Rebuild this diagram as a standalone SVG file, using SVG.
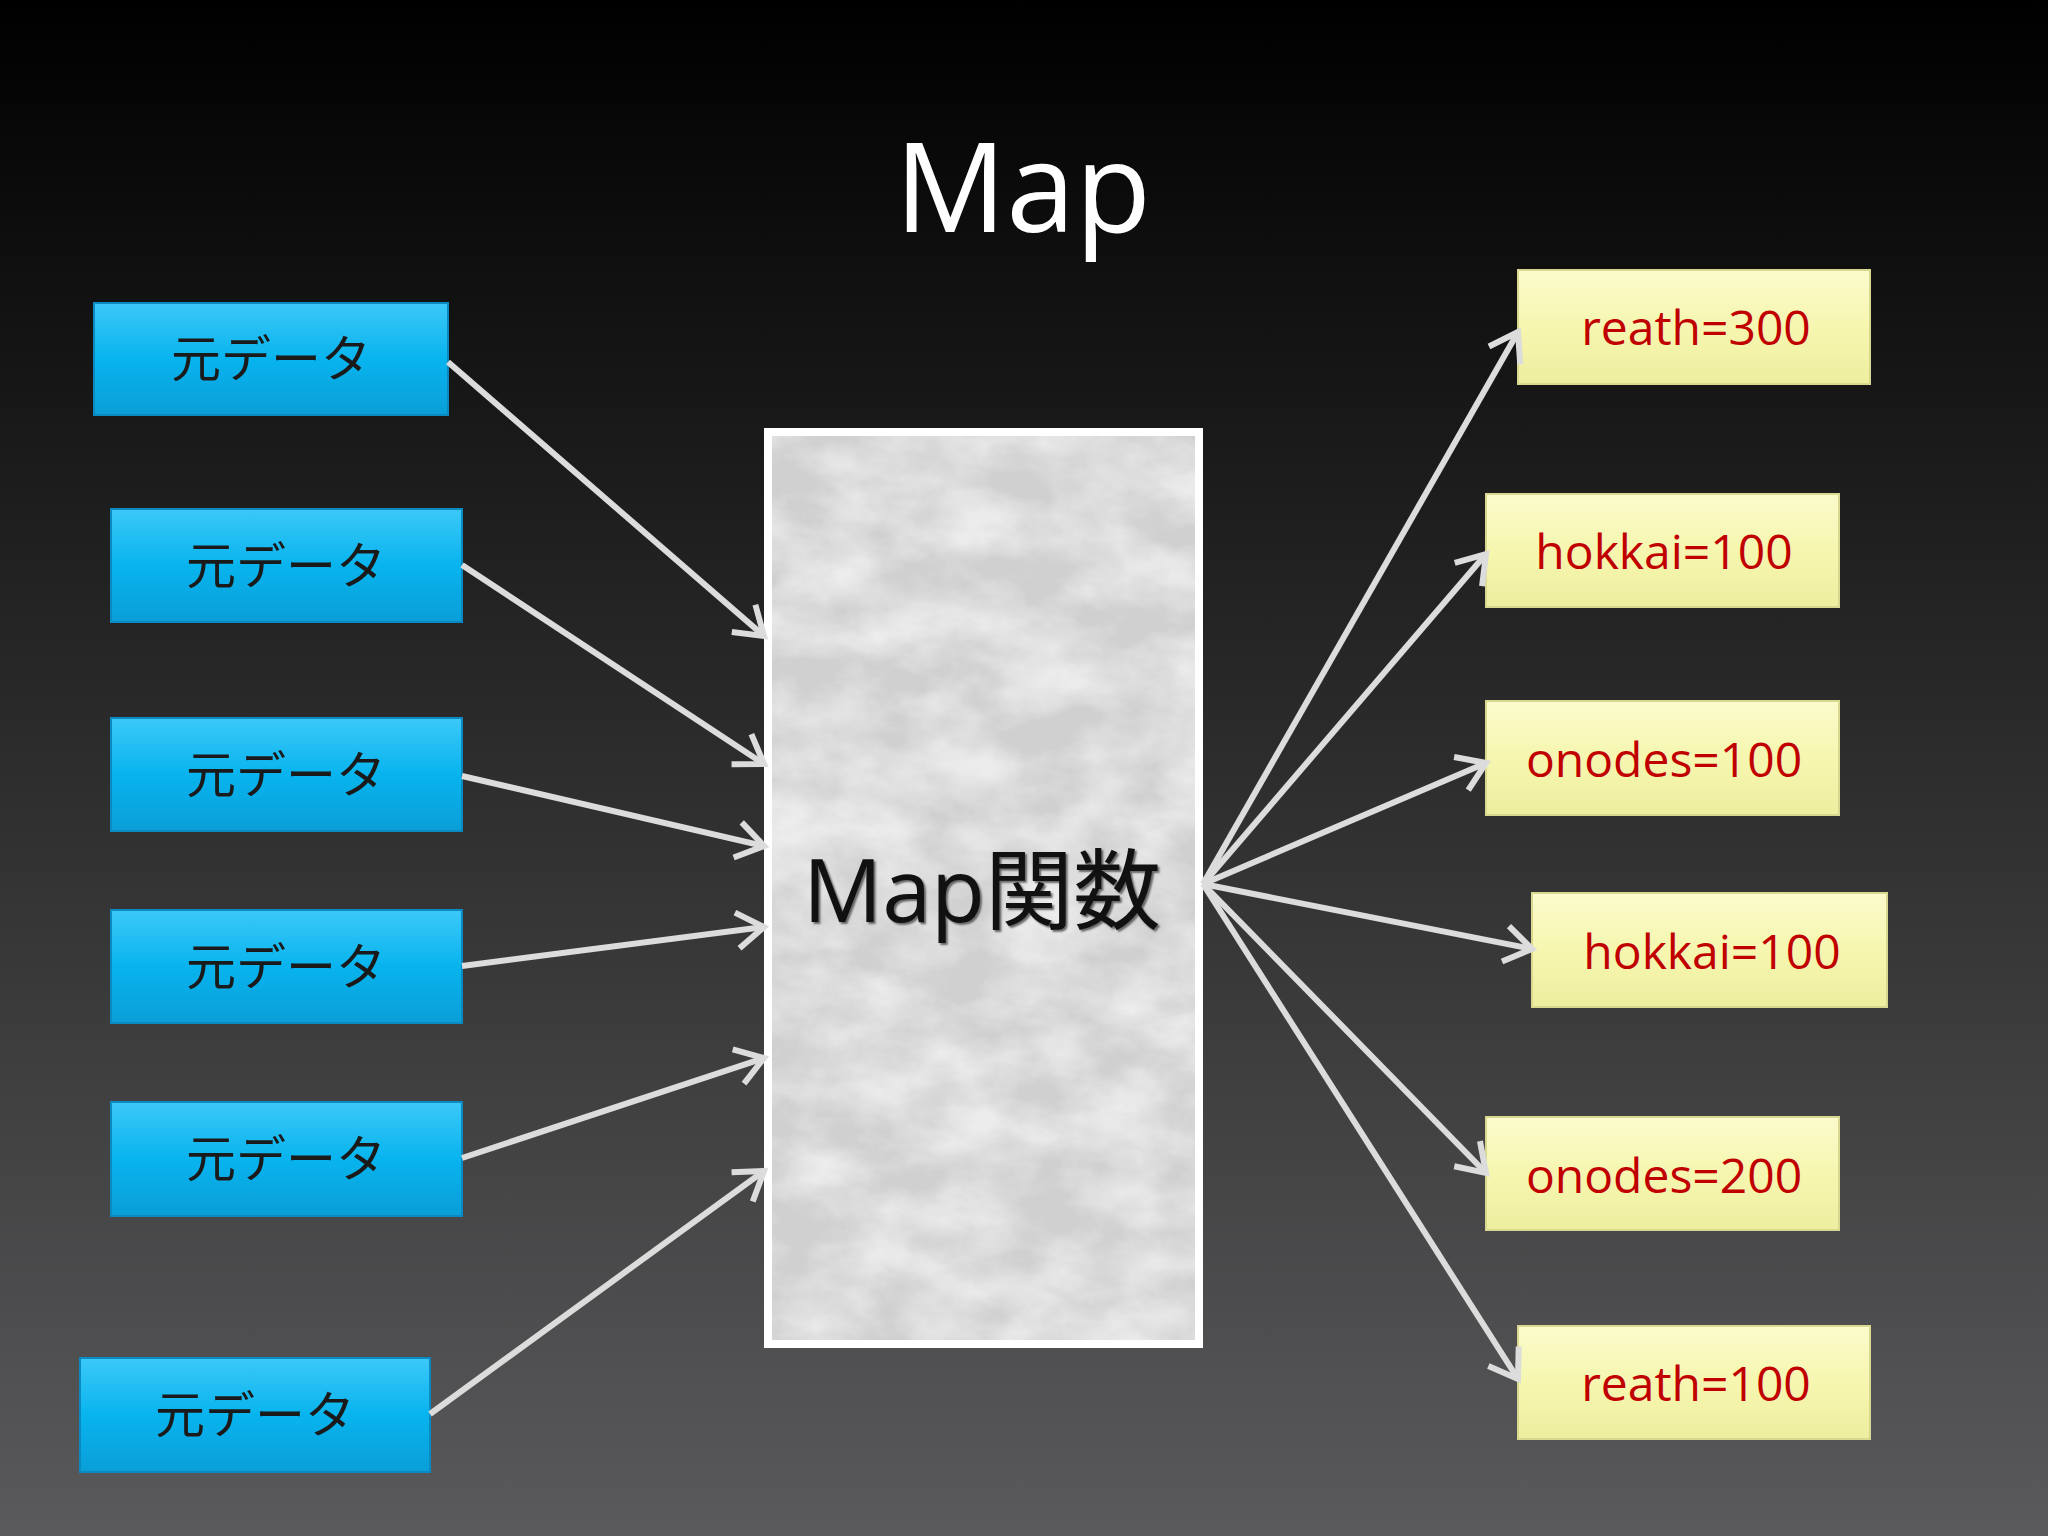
<svg xmlns="http://www.w3.org/2000/svg" width="2048" height="1536" viewBox="0 0 2048 1536">
<defs>
<linearGradient id="bg" x1="0" y1="0" x2="0" y2="1"><stop offset="0" stop-color="#000"/><stop offset="1" stop-color="#5a5a5c"/></linearGradient>
<linearGradient id="blue" x1="0" y1="0" x2="0" y2="1"><stop offset="0" stop-color="#3cc8f8"/><stop offset="0.5" stop-color="#08b4ee"/><stop offset="1" stop-color="#0a9ed8"/></linearGradient>
<linearGradient id="yel" x1="0" y1="0" x2="0" y2="1"><stop offset="0" stop-color="#fbfbcc"/><stop offset="0.5" stop-color="#f6f6b0"/><stop offset="1" stop-color="#eeeea0"/></linearGradient>
<filter id="marble" x="0" y="0" width="1" height="1">
<feTurbulence type="fractalNoise" baseFrequency="0.012 0.02" numOctaves="5" seed="3"/>
<feColorMatrix type="matrix" values="0 0 0 0 0.75  0 0 0 0 0.75  0 0 0 0 0.75  -2 0 0 0 1.6"/>
<feComposite in2="SourceGraphic" operator="in"/>
<feBlend in2="SourceGraphic" mode="multiply"/>
</filter>
<marker id="ah" markerWidth="12" markerHeight="12" refX="9" refY="6" orient="auto" markerUnits="userSpaceOnUse" viewBox="0 0 12 12" overflow="visible">
<path d="M-18,-12 L9,6 L-18,24" fill="none" stroke="#dcdcdc" stroke-width="6"/>
</marker>
<style>
.bb{fill:url(#blue);stroke:#0a8ac0;stroke-width:2}
.yb{fill:url(#yel);stroke:#d8d890;stroke-width:2}
.bt{font-family:"Noto Sans CJK JP","Liberation Serif",serif;font-size:50px;fill:#1a1a1a;text-anchor:middle}
.yt{font-family:"Open Sans","Liberation Sans",sans-serif;font-size:48px;fill:#c00000;text-anchor:middle}
.cn line{stroke:#dcdcdc;stroke-width:6;marker-end:url(#ah)}
</style>
</defs>
<rect width="2048" height="1536" fill="url(#bg)"/>
<text x="1023" y="232" font-family="Open Sans, sans-serif" font-size="124" fill="#fff" text-anchor="middle">Map</text>
<g id="map"><rect x="764" y="428" width="439" height="920" fill="#fff"/><rect x="772" y="436" width="423" height="904" fill="#ececec" filter="url(#marble)"/>
<text x="982" y="922" font-family="Open Sans, 'Noto Sans CJK JP', sans-serif" font-size="88" fill="#111" text-anchor="middle" style="text-shadow:2px 2px 2px #666">Map関数</text></g>
<g id="s1"><rect class="bb" x="94" y="303" width="354" height="112"/><text class="bt" x="271" y="377">元データ</text></g>
<g id="s2"><rect class="bb" x="111" y="509" width="351" height="113"/><text class="bt" x="286" y="584">元データ</text></g>
<g id="s3"><rect class="bb" x="111" y="718" width="351" height="113"/><text class="bt" x="286" y="793">元データ</text></g>
<g id="s4"><rect class="bb" x="111" y="910" width="351" height="113"/><text class="bt" x="286" y="985">元データ</text></g>
<g id="s5"><rect class="bb" x="111" y="1102" width="351" height="114"/><text class="bt" x="286" y="1177">元データ</text></g>
<g id="s6"><rect class="bb" x="80" y="1358" width="350" height="114"/><text class="bt" x="255" y="1433">元データ</text></g>
<g id="o1"><rect class="yb" x="1518" y="270" width="352" height="114"/><text class="yt" x="1696" y="345">reath=300</text></g>
<g id="o2"><rect class="yb" x="1486" y="494" width="353" height="113"/><text class="yt" x="1664" y="569">hokkai=100</text></g>
<g id="o3"><rect class="yb" x="1486" y="701" width="353" height="114"/><text class="yt" x="1664" y="777">onodes=100</text></g>
<g id="o4"><rect class="yb" x="1532" y="893" width="355" height="114"/><text class="yt" x="1712" y="969">hokkai=100</text></g>
<g id="o5"><rect class="yb" x="1486" y="1117" width="353" height="113"/><text class="yt" x="1664" y="1193">onodes=200</text></g>
<g id="o6"><rect class="yb" x="1518" y="1326" width="352" height="113"/><text class="yt" x="1696" y="1401">reath=100</text></g>
<g class="cn" id="connectors">
<line x1="448" y1="362" x2="764" y2="636"/>
<line x1="462" y1="565" x2="764" y2="764"/>
<line x1="462" y1="776" x2="764" y2="846"/>
<line x1="462" y1="966" x2="764" y2="927"/>
<line x1="462" y1="1158" x2="764" y2="1058"/>
<line x1="430" y1="1414" x2="764" y2="1171"/>
<line x1="1203" y1="884" x2="1518" y2="332"/>
<line x1="1203" y1="884" x2="1486" y2="554"/>
<line x1="1203" y1="884" x2="1486" y2="763"/>
<line x1="1203" y1="884" x2="1532" y2="949"/>
<line x1="1203" y1="884" x2="1486" y2="1173"/>
<line x1="1203" y1="884" x2="1518" y2="1379"/>
</g>
</svg>
